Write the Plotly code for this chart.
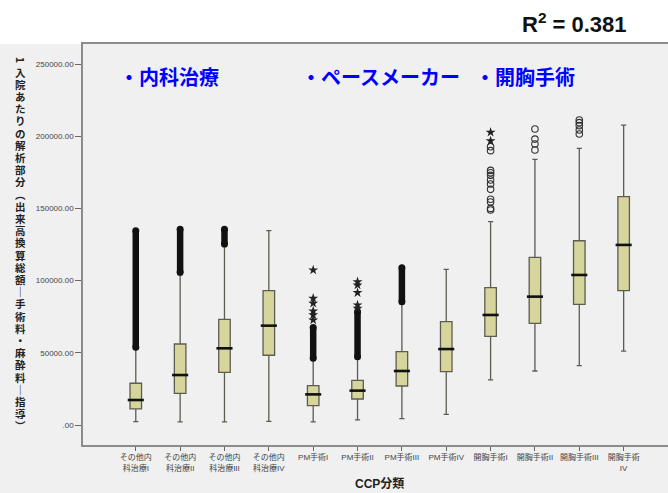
import plotly.graph_objects as go

# ---------------- data ----------------
categories = ["その他内科治療I", "その他内科治療II", "その他内科治療III", "その他内科治療IV",
              "PM手術I", "PM手術II", "PM手術III", "PM手術IV",
              "開胸手術I", "開胸手術II", "開胸手術III", "開胸手術IV"]
tick_labels = ["その他内<br>科治療I", "その他内<br>科治療II", "その他内<br>科治療III", "その他内<br>科治療IV",
               "PM手術I", "PM手術II", "PM手術III", "PM手術IV",
               "開胸手術I", "開胸手術II", "開胸手術III", "開胸手術<br>IV"]

q1 = [11100, 21900, 36500, 48300, 13400, 18000, 27000, 36900, 61400, 70400, 83600, 93000]
median = [17300, 34600, 53100, 68800, 21200, 23800, 37400, 52600, 76200, 88900, 103900, 124700]
q3 = [28900, 56100, 73200, 93000, 27200, 30900, 50800, 71600, 95100, 116100, 127600, 158100]
lower_whisker = [2300, 2100, 2100, 2500, 2100, 3500, 4400, 7400, 31200, 37400, 41100, 51200]
upper_whisker = [52500, 104000, 123500, 134600, 45500, 46500, 84000, 107800, 140800, 184000, 191600, 207700]

# dense runs of outliers (too many overlapping points to read one by one)
dense_cat = ["その他内科治療I", "その他内科治療II", "その他内科治療III", "PM手術I", "PM手術II", "PM手術III"]
dense_low = [53800, 105700, 125300, 46200, 47300, 85400]
dense_high = [134500, 135500, 135500, 67600, 78500, 108900]

# extreme outliers (stars)
star_cat = ["PM手術I"] * 6 + ["PM手術II"] * 5 + ["開胸手術I"] * 2
star_val = [107300, 87700, 84300, 78900, 76200, 72700,
            99200, 96900, 91600, 83100, 80800,
            202700, 196700]

# outliers (open circles)
circle_cat = ["開胸手術I"] * 12 + ["開胸手術II"] * 4 + ["開胸手術III"] * 5
circle_val = [192700, 190000, 176300, 174700, 172900, 169700, 166900, 163200, 156300, 154400, 150000, 148900,
              205000, 198000, 194600, 190400,
              211200, 209400, 207300, 204300, 201500]

y_tickvals = [0, 50000, 100000, 150000, 200000, 250000]
y_ticktext = [".00", "50000.00", "100000.00", "150000.00", "200000.00", "250000.00"]

y_title_first = "1"
y_title_rest = "入院あたりの解析部分︵出来高換算総額｜手術料・麻酔料｜指導︶"
x_title = "CCP分類"
r2_text = "R<sup>2</sup> = 0.381"
group_labels = ["・内科治療", "・ペースメーカー", "・開胸手術"]

# ---------------- figure ----------------
W, H = 668, 493
ML, MR, MT, MB = 83, 0, 44, 48
PW, PH = W - ML - MR, H - MT - MB


def px_x(px):
    return (px - ML) / PW


def px_y(py):
    return (H - MB - py) / PH


LAT = "Liberation Sans, Noto Sans CJK JP"
CJK = "Noto Sans CJK JP, Liberation Sans"

fig = go.Figure()

fig.add_trace(go.Box(
    x=categories, q1=q1, median=median, q3=q3,
    lowerfence=lower_whisker, upperfence=upper_whisker,
    width=0.26, whiskerwidth=0.45,
    fillcolor="#d6d69c", line=dict(color="#5c5c50", width=1.3),
    boxpoints=False, showlegend=False, hoverinfo="skip",
))

# dense outlier columns
dx, dy = [], []
for c, lo, hi in zip(dense_cat, dense_low, dense_high):
    dx += [c, c, None]
    dy += [lo, hi, None]
fig.add_trace(go.Scatter(
    x=dx, y=dy, mode="lines+markers",
    line=dict(color="#111111", width=6.5),
    marker=dict(symbol="circle", size=7, color="#111111"),
    showlegend=False, hoverinfo="skip",
))

fig.add_trace(go.Scatter(
    x=circle_cat, y=circle_val, mode="markers",
    marker=dict(symbol="circle-open", size=6.5, color="#333333", line=dict(width=1.1, color="#333333")),
    showlegend=False, hoverinfo="skip",
))

fig.add_trace(go.Scatter(
    x=star_cat, y=star_val, mode="markers",
    marker=dict(symbol="star", size=7.5, color="#222222", line=dict(width=0)),
    showlegend=False, hoverinfo="skip",
))

# thick black median lines
fig.add_trace(go.Scatter(
    x=categories, y=median, mode="markers",
    marker=dict(symbol="line-ew", size=11.5, color="#111111", line=dict(width=2.6, color="#111111")),
    showlegend=False, hoverinfo="skip",
))

annotations = [
    dict(text="<b>" + r2_text + "</b>", x=px_x(574), y=px_y(23), xref="paper", yref="paper",
         xanchor="center", yanchor="middle", showarrow=False,
         font=dict(family="Liberation Sans", size=22, color="#111111")),
    dict(text="<b>" + x_title + "</b>", x=px_x(379), y=px_y(484), xref="paper", yref="paper",
         xanchor="center", yanchor="middle", showarrow=False,
         font=dict(family=LAT, size=12, color="#222222")),
    dict(text="<b>" + y_title_first + "</b>", x=px_x(20), y=px_y(60), xref="paper", yref="paper",
         xanchor="center", yanchor="middle", showarrow=False, textangle=90, borderpad=0,
         font=dict(family=CJK, size=10.5, color="#222222")),
]
# vertical (upright) axis title, one character per slot
for i, ch in enumerate(y_title_rest):
    annotations.append(dict(text="<b>" + ch + "</b>", x=px_x(20), y=px_y(72 + i * 12.2),
                            xref="paper", yref="paper", xanchor="center", yanchor="middle",
                            showarrow=False, borderpad=0,
                            font=dict(family=CJK, size=10.5, color="#222222")))
for lbl, left in zip(group_labels, [117, 299, 473]):
    annotations.append(dict(text="<b>" + lbl + "</b>", x=px_x(left), y=px_y(76), xref="paper", yref="paper",
                            xanchor="left", yanchor="middle", showarrow=False,
                            font=dict(family=CJK, size=20, color="#0000ff")))

fig.update_layout(
    width=W, height=H,
    margin=dict(l=ML, r=MR, t=MT, b=MB, pad=0),
    paper_bgcolor="#f0f0f0", plot_bgcolor="#f0f0f0",
    showlegend=False,
    annotations=annotations,
    shapes=[dict(type="rect", xref="paper", yref="paper", layer="below",
                 x0=px_x(0), x1=px_x(W), y0=1, y1=px_y(0),
                 fillcolor="white", line=dict(width=0))],
    xaxis=dict(type="category", categoryorder="array", categoryarray=categories,
               tickvals=categories, ticktext=tick_labels, range=[-1.19, 12.0],
               showline=True, linecolor="#8c8c8c", linewidth=1.5, mirror=True,
               ticks="outside", ticklen=4, tickcolor="#666666", tickwidth=1,
               showgrid=False, zeroline=False,
               tickfont=dict(family=LAT, size=8, color="#444444")),
    yaxis=dict(range=[-13850, 263850], tickvals=y_tickvals, ticktext=y_ticktext,
               showline=True, linecolor="#8c8c8c", linewidth=1.5, mirror=False,
               ticks="outside", ticklen=6, tickcolor="#666666", tickwidth=1,
               showgrid=False, zeroline=False,
               tickfont=dict(family="Liberation Sans", size=8, color="#444444")),
)

fig.write_html("out.html", config={"displayModeBar": False},
               post_script="document.body.style.margin='0';document.body.style.overflow='hidden';")
